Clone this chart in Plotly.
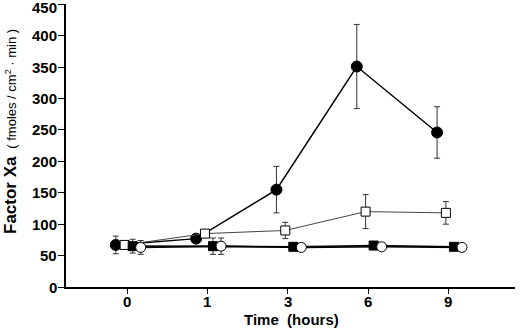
import plotly.graph_objects as go

# ---- data ----
time_labels = ["0", "1", "3", "6", "9"]

filled_circle = [67, 77, 155, 351, 246]
filled_circle_err = [14, 4, 37, 67, 41]

open_square = [67, 85, 90, 120, 118]
open_square_err = [0, 0, 13, 27, 18]

filled_square = [65, 65, 64, 66, 64]
filled_square_err = [11, 13, 2, 2, 2]

open_circle = [63, 65, 63, 64, 63]
open_circle_err = [11, 13, 2, 2, 2]

y_ticks = [0, 50, 100, 150, 200, 250, 300, 350, 400, 450]

FONT = "Liberation Sans, Arial, sans-serif"

fig = go.Figure()
idx = list(range(len(time_labels)))


def add_series(values, errs, offset, symbol, line_color, line_width, msize, fill):
    fig.add_trace(go.Scatter(
        x=[i + offset for i in idx],
        y=values,
        mode="lines+markers",
        line=dict(color=line_color, width=line_width),
        marker=dict(symbol=symbol, size=msize, color=fill,
                    line=dict(color="black", width=1)),
        error_y=dict(type="data", array=errs, visible=True,
                     color="#333", thickness=1, width=3),
        showlegend=False,
        cliponaxis=False,
        hoverinfo="skip",
    ))


add_series(filled_circle, filled_circle_err, -0.14, "circle", "black", 1.5, 11, "black")
add_series(open_square, open_square_err, -0.03, "square", "#444", 1, 9, "white")
add_series(filled_square, filled_square_err, 0.07, "square", "black", 1.6, 9, "black")
add_series(open_circle, open_circle_err, 0.17, "circle", "black", 1.6, 10, "white")

tick_font = dict(family=FONT, size=15, color="black")

fig.update_layout(
    width=520, height=329,
    margin=dict(l=66, r=5, t=4, b=42),
    paper_bgcolor="white", plot_bgcolor="white",
    font=dict(family=FONT, color="black"),
    xaxis=dict(
        range=[-0.76, 4.83],
        tickvals=idx, showticklabels=False,
        showgrid=False, zeroline=False,
        showline=True, linecolor="black", linewidth=1.5,
        ticks="outside", ticklen=5, tickwidth=1.2, tickcolor="black",
    ),
    yaxis=dict(
        range=[0, 450.5],
        tickvals=y_ticks, showticklabels=False,
        showgrid=False, zeroline=False,
        showline=True, linecolor="black", linewidth=1.5,
        ticks="outside", ticklen=6, tickwidth=1.2, tickcolor="black",
    ),
)

# tick labels as annotations placed relative to the axes
for i, t in zip(idx, time_labels):
    fig.add_annotation(
        x=i, xref="x", y=0, yref="paper", yshift=-14,
        text="<b>%s</b>" % t, showarrow=False, font=tick_font,
        xanchor="center", yanchor="middle",
    )
for v in y_ticks:
    fig.add_annotation(
        x=0, xref="paper", y=v, yref="y", xshift=-7,
        yshift=-3 if v == y_ticks[-1] else 0,
        text="<b>%d</b>" % v, showarrow=False, font=tick_font,
        xanchor="right", yanchor="middle",
    )

fig.add_annotation(
    xref="paper", yref="paper",
    x=(291 - 66) / 449, y=(287 - 319) / 283,
    text="<b>Time</b>  <b>(hours)</b>",
    showarrow=False, font=dict(family=FONT, size=15, color="black"),
    xanchor="center", yanchor="middle",
)
fig.add_annotation(
    xref="paper", yref="paper",
    x=(10 - 66) / 449, y=(287 - 132) / 283,
    text=("<b><span style='font-size:17px'>Factor Xa</span></b>  "
          "<span style='font-size:13px'>( fmoles / cm<sup>2</sup> · min )</span>"),
    textangle=-90,
    showarrow=False, font=dict(family=FONT, size=14, color="black"),
    xanchor="center", yanchor="middle",
)

fig.write_html("out.html", config={"displayModeBar": False},
               post_script="document.body.style.margin='0px';")
